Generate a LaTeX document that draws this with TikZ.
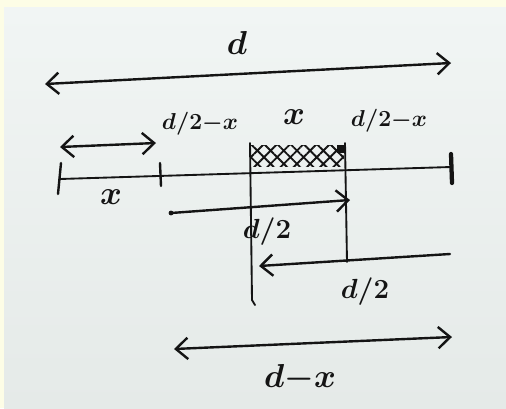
\documentclass[tikz,border=0pt]{standalone}
\usepackage{xcolor}
\usepackage{tikz}
\usetikzlibrary{arrows.meta,patterns.meta}

\definecolor{paperTop}{HTML}{F1F5F4}
\definecolor{paperBot}{HTML}{E5EAE8}
\definecolor{edgeYellow}{HTML}{FDFDE6}
\definecolor{ink}{HTML}{141414}

\begin{document}
\begin{tikzpicture}[x=0.75pt, y=-0.75pt,
    pen/.style={draw=ink, line width=1.8pt, line cap=round},
    arr/.style={pen, -{Straight Barb[length=9pt,width=16pt,line width=1.8pt]}},
    twoway/.style={pen, {Straight Barb[length=9pt,width=16pt,line width=1.8pt]}-{Straight Barb[length=9pt,width=16pt,line width=1.8pt]}},
    lbl/.style={text=ink, inner sep=0pt}]
    \useasboundingbox (0,0) rectangle (506,408);

    % paper
    \fill[edgeYellow] (0,0) rectangle (506,408);
    \shade[top color=paperTop, bottom color=paperBot] (4,7) rectangle (506,408);

    % Total length d
    \coordinate (dL) at (45,84);
    \coordinate (dR) at (451,63);
    \draw[twoway] (dL) -- (dR);
    \node[lbl, font=\fontsize{40}{42}\selectfont\boldmath] (d) at (237,43) {$d$};

    % Upper labels
    \node[lbl, font=\fontsize{17}{19}\selectfont\boldmath] (leftGap) at (200,124) {$d/2{-}x$};
    \node[lbl, font=\fontsize{28}{30}\selectfont\boldmath] (xTop) at (294,117) {$x$};
    \node[lbl, font=\fontsize{17}{19}\selectfont\boldmath] (rightGap) at (389,121) {$d/2{-}x$};

    % Short x arrow
    \coordinate (sL) at (60,147);
    \coordinate (sR) at (156,143);
    \draw[twoway] (sL) -- (sR);

    % Main line with ticks
    \coordinate (lineL) at (60,179);
    \coordinate (lineR) at (451,167);
    \draw[pen, line width=1.4pt] (lineL) -- (lineR);
    \draw[pen] (61,163) -- (58,194);
    \draw[pen] (160,163) -- (161,186);
    \draw[pen, line width=3.2pt] (451,154) -- (452,183);
    \node[lbl, font=\fontsize{28}{30}\selectfont\boldmath] (xLow) at (111,197) {$x$};

    % Hatched block
    \coordinate (hTL) at (251,145);
    \coordinate (hBR) at (344,166);
    \fill[pattern={Hatch[angle=45,distance=7pt,line width=1.4pt]}, pattern color=ink] (hTL) rectangle (hBR);
    \fill[ink] (337,145) rectangle (346,153);

    % Vertical guides
    \coordinate (v1Top) at (250,143);
    \coordinate (v1Bot) at (255,305);
    \coordinate (v2Top) at (345,143);
    \coordinate (v2Bot) at (347,262);
    \draw[pen, line width=1.4pt] (v1Top) -- (252,300) -- (v1Bot);
    \draw[pen, line width=1.4pt] (v2Top) -- (v2Bot);

    % Half lengths
    \coordinate (aL) at (171,213);
    \coordinate (aR) at (350,200);
    \draw[arr] (aL) -- (aR);
    \fill[ink] (aL) circle (2.4);
    \node[lbl, font=\fontsize{22}{24}\selectfont\boldmath] (halfA) at (267,232) {$d/2$};

    \coordinate (bR) at (450,254);
    \coordinate (bL) at (259,266);
    \draw[arr] (bR) -- (bL);
    \node[lbl, font=\fontsize{22}{24}\selectfont\boldmath] (halfB) at (365,292) {$d/2$};

    % Remaining length d-x
    \coordinate (cL) at (174,349);
    \coordinate (cR) at (452,337);
    \draw[twoway] (cL) -- (cR);
    \node[lbl, font=\fontsize{30}{32}\selectfont\boldmath] (dMinusX) at (300,378) {$d{-}x$};
\end{tikzpicture}
\end{document}
